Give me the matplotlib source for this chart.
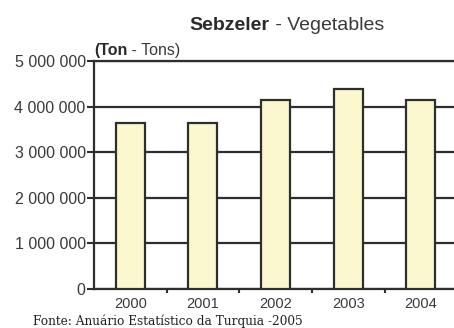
import matplotlib.pyplot as plt
from matplotlib.ticker import FuncFormatter, FixedLocator

# annual vegetable production, tons
years = ['2000', '2001', '2002', '2003', '2004']
production = [3640000, 3640000, 4140000, 4390000, 4140000]
yticks = [0, 1000000, 2000000, 3000000, 4000000, 5000000]

plt.rcParams['font.family'] = ['Liberation Sans', 'DejaVu Sans']

fig = plt.figure(figsize=(4.54, 3.28), dpi=100)
ax = fig.add_axes([0.207, 0.119, 0.80, 0.695])

edge = '#2e2e2e'
x = range(len(years))
ax.bar(x, production, width=0.4, color='#fbf8cf', edgecolor=edge,
       linewidth=1.6, zorder=3)

ax.set_xlim(-0.5, len(years) - 0.5)
ax.set_ylim(0, 5000000)
ax.set_yticks(yticks)
ax.yaxis.set_major_formatter(
    FuncFormatter(lambda v, p: '{:,}'.format(int(v)).replace(',', ' ')))
ax.yaxis.grid(True, color=edge, linewidth=1.6, zorder=0)
ax.set_axisbelow(True)

# year labels centred on bars, tick marks between categories
ax.set_xticks(list(x))
ax.set_xticklabels(years)
ax.tick_params(axis='x', which='major', length=0, pad=6, labelsize=10.5,
               labelcolor='#3a3a3a')
ax.xaxis.set_minor_locator(FixedLocator([i + 0.5 for i in range(len(years) - 1)]))
ax.tick_params(axis='x', which='minor', length=3, width=1.5, color=edge)
ax.tick_params(axis='y', length=5, width=1.5, color=edge, labelsize=11.5,
               labelcolor='#3a3a3a', pad=1)

for side in ['left', 'bottom', 'top']:
    ax.spines[side].set_color(edge)
    ax.spines[side].set_linewidth(1.6)
ax.spines['right'].set_visible(False)

# title with bold Turkish part
t1 = fig.text(0.418, 0.895, 'Sebzeler', fontsize=14, fontweight='bold',
              color='#2a2a2a', va='bottom')
ax.annotate(' - Vegetables', xy=(1, 0), xycoords=t1, va='bottom',
            fontsize=14, color='#3a3a3a')

u1 = fig.text(0.207, 0.822, '(Ton', fontsize=11.5, fontweight='bold',
              color='#2a2a2a', va='bottom')
ax.annotate(' - Tons)', xy=(1, 0), xycoords=u1, va='bottom',
            fontsize=11.5, color='#3a3a3a')

fig.text(0.072, 0.0, 'Fonte: Anuário Estatístico da Turquia -2005',
         fontsize=8.7, family='DejaVu Serif', color='#222222', va='bottom')

fig.savefig('out.png', dpi=100)
